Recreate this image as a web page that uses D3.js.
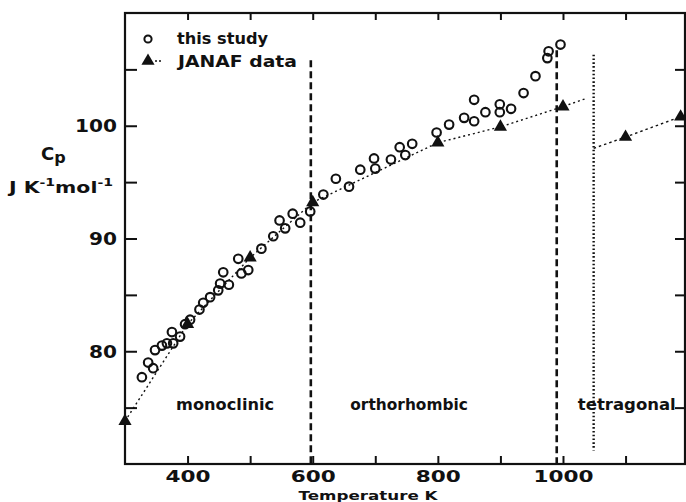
<!DOCTYPE html>
<html>
<head>
<meta charset="utf-8">
<script src="https://cdn.jsdelivr.net/npm/d3@7"></script>
<style>
  html, body { margin: 0; padding: 0; background: #fff; }
  svg { display: block; }
  text { font-family: "DejaVu Sans", sans-serif; fill: #111; }
</style>
</head>
<body>
<script>
// Heat capacity measurements (open circles)
const studyT = [327, 337, 345, 348, 359, 367, 375, 377, 388, 396, 404, 419, 425, 436, 449, 452, 457, 466,
                481, 486, 497, 518, 537, 547, 556, 568, 580, 596, 617, 637, 658, 676, 698, 700, 725, 739,
                748, 759, 798, 818, 842, 858, 858, 876, 899, 899, 917, 937, 956, 975, 977, 996];
const studyCp = [77.7, 79.0, 78.5, 80.1, 80.5, 80.7, 81.7, 80.7, 81.3, 82.4, 82.8, 83.7, 84.3, 84.8, 85.4, 86.0, 87.0, 85.9,
                 88.2, 86.9, 87.2, 89.1, 90.2, 91.6, 90.9, 92.2, 91.4, 92.4, 93.9, 95.3, 94.6, 96.1, 97.1, 96.2, 97.0, 98.1,
                 97.4, 98.4, 99.4, 100.1, 100.7, 100.4, 102.3, 101.2, 101.9, 101.2, 101.5, 102.9, 104.4, 106.0, 106.6, 107.2];

// JANAF tabulated values (filled triangles)
const janafT  = [300, 400, 500, 600, 800, 900, 1000, 1100, 1188];
const janafCp = [73.8, 82.4, 88.3, 93.2, 98.5, 99.9, 101.7, 99.0, 100.8];

// JANAF curve, low-temperature branch and tetragonal branch
const janafLowT  = [300, 400, 500, 600, 800, 900, 1000, 1036];
const janafLowCp = [73.8, 82.4, 88.3, 93.2, 98.5, 99.9, 101.7, 102.4];
const janafHighT  = [1049, 1100, 1188];
const janafHighCp = [98.0, 99.0, 100.8];

// Phase boundaries: temperature, top and bottom of the drawn line
const boundaryT   = [597, 990, 1049];
const boundaryTop = [105.8, 106.7, 106.3];
const boundaryBot = [70, 70, 71.2];
const boundaryStyle = ["dash", "dash", "dot"];

// Phase names and their label positions
const phaseNames = ["monoclinic", "orthorhombic", "tetragonal"];
const phaseLabelT = [460, 754, 1102];

// Axis ticks
const xTicks = [400, 500, 600, 700, 800, 900, 1000, 1100];
const xTickLabels = [400, 600, 800, 1000];
const yTicks = [75, 80, 85, 90, 95, 100, 105];
const yTickLabels = [80, 90, 100];

const W = 686, H = 502;
const svg = d3.select("body").append("svg").attr("width", W).attr("height", H);

const x = d3.scaleLinear().domain([300, 1195]).range([125, 685]);
const y = d3.scaleLinear().domain([70, 110]).range([464, 13]);

// Frame
svg.append("rect")
  .attr("x", x(300)).attr("y", y(110))
  .attr("width", x(1195) - x(300)).attr("height", y(70) - y(110))
  .attr("fill", "none").attr("stroke", "#111").attr("stroke-width", 2.2);

// Bottom axis with inward ticks
const xAxis = svg.append("g").attr("transform", `translate(0,${y(70)})`)
  .call(d3.axisBottom(x).tickValues(xTicks).tickSizeInner(-8).tickSizeOuter(0).tickPadding(7)
    .tickFormat(d => xTickLabels.includes(d) ? d : ""));
xAxis.select(".domain").remove();
xAxis.selectAll(".tick line").attr("stroke", "#111").attr("stroke-width", 2);
xAxis.selectAll(".tick text").attr("font-size", 16).attr("font-weight", "bold")
  .attr("font-family", "DejaVu Sans").attr("fill", "#111")
  .each(function (d) { if (xTickLabels.includes(d)) d3.select(this).attr("textLength", String(d).length * 15).attr("lengthAdjust", "spacingAndGlyphs"); });

// Top axis ticks
const xTop = svg.append("g").attr("transform", `translate(0,${y(110)})`)
  .call(d3.axisTop(x).tickValues(xTicks).tickSizeInner(-7).tickSizeOuter(0).tickFormat(""));
xTop.select(".domain").remove();
xTop.selectAll(".tick line").attr("stroke", "#111").attr("stroke-width", 2);

// Left axis with inward ticks
const yAxis = svg.append("g").attr("transform", `translate(${x(300)},0)`)
  .call(d3.axisLeft(y).tickValues(yTicks).tickSizeInner(-12).tickSizeOuter(0).tickPadding(8)
    .tickFormat(d => yTickLabels.includes(d) ? d : ""));
yAxis.select(".domain").remove();
yAxis.selectAll(".tick line").attr("stroke", "#111").attr("stroke-width", 2);
yAxis.selectAll(".tick text").attr("font-size", 18).attr("font-weight", "bold")
  .attr("font-family", "DejaVu Sans").attr("fill", "#111")
  .each(function (d) { if (yTickLabels.includes(d)) d3.select(this).attr("textLength", String(d).length * 14).attr("lengthAdjust", "spacingAndGlyphs"); });

// Right axis ticks
const yRight = svg.append("g").attr("transform", `translate(${x(1195)},0)`)
  .call(d3.axisRight(y).tickValues(yTicks).tickSizeInner(-10).tickSizeOuter(0).tickFormat(""));
yRight.select(".domain").remove();
yRight.selectAll(".tick line").attr("stroke", "#111").attr("stroke-width", 2);

// Axis titles
svg.append("text").attr("x", 368).attr("y", 500).attr("text-anchor", "middle")
  .attr("font-size", 12.5).attr("font-weight", "bold")
  .attr("textLength", 139).attr("lengthAdjust", "spacingAndGlyphs")
  .text("Temperature  K");

const cp = svg.append("text").attr("x", 41).attr("y", 160).attr("font-size", 18).attr("font-weight", "bold");
cp.append("tspan").text("C");
cp.append("tspan").attr("dy", 3).attr("font-size", 16).text("p");

const unit = svg.append("text").attr("x", 9).attr("y", 193).attr("font-size", 16).attr("font-weight", "bold")
  .attr("textLength", 104).attr("lengthAdjust", "spacingAndGlyphs");
unit.append("tspan").text("J K");
unit.append("tspan").attr("dy", -7).attr("font-size", 11).text("-1");
unit.append("tspan").attr("dy", 7).text("mol");
unit.append("tspan").attr("dy", -7).attr("font-size", 11).text("-1");

// Phase boundaries
const bounds = boundaryT.map((t, i) => ({ t, top: boundaryTop[i], bot: boundaryBot[i], style: boundaryStyle[i] }));
svg.append("g").selectAll("line").data(bounds).join("line")
  .attr("x1", d => x(d.t)).attr("x2", d => x(d.t))
  .attr("y1", d => y(d.top)).attr("y2", d => y(d.bot))
  .attr("stroke", "#111")
  .attr("stroke-width", d => d.style === "dash" ? 2.6 : 2.4)
  .attr("stroke-dasharray", d => d.style === "dash" ? "7,4" : "1.6,2.2");

// Phase labels
svg.append("g").selectAll("text").data(phaseNames).join("text")
  .attr("x", (d, i) => x(phaseLabelT[i])).attr("y", 410)
  .attr("text-anchor", "middle").attr("font-size", 15).attr("font-weight", "bold")
  .attr("textLength", d => d.length * 9.8).attr("lengthAdjust", "spacingAndGlyphs")
  .text(d => d);

// JANAF curves
const line = d3.line().x(d => x(d[0])).y(d => y(d[1]));
svg.append("path").datum(d3.zip(janafLowT, janafLowCp)).attr("d", line)
  .attr("fill", "none").attr("stroke", "#111").attr("stroke-width", 1.4).attr("stroke-dasharray", "2,3");
svg.append("path").datum(d3.zip(janafHighT, janafHighCp)).attr("d", line)
  .attr("fill", "none").attr("stroke", "#111").attr("stroke-width", 1.4).attr("stroke-dasharray", "2.5,3");

// JANAF points
const tri = d3.symbol(d3.symbolTriangle).size(75);
svg.append("g").selectAll("path").data(d3.zip(janafT, janafCp)).join("path")
  .attr("d", tri).attr("transform", d => `translate(${x(d[0])},${y(d[1])})`)
  .attr("fill", "#111");

// Measured points
svg.append("g").selectAll("circle").data(d3.zip(studyT, studyCp)).join("circle")
  .attr("cx", d => x(d[0])).attr("cy", d => y(d[1])).attr("r", 4.3)
  .attr("fill", "none").attr("stroke", "#111").attr("stroke-width", 2.1);

// Legend
const lg = svg.append("g");
lg.append("circle").attr("cx", 148).attr("cy", 39).attr("r", 3.6)
  .attr("fill", "none").attr("stroke", "#111").attr("stroke-width", 2);
lg.append("text").attr("x", 177).attr("y", 44).attr("font-size", 15).attr("font-weight", "bold")
  .attr("textLength", 91).attr("lengthAdjust", "spacingAndGlyphs").text("this study");
lg.append("path").attr("d", tri).attr("transform", "translate(148,61)").attr("fill", "#111");
lg.append("line").attr("x1", 155).attr("x2", 163).attr("y1", 61).attr("y2", 61)
  .attr("stroke", "#111").attr("stroke-width", 1.4).attr("stroke-dasharray", "2,2");
lg.append("text").attr("x", 178).attr("y", 67).attr("font-size", 15).attr("font-weight", "bold")
  .attr("textLength", 119).attr("lengthAdjust", "spacingAndGlyphs").text("JANAF data");
</script>
</body>
</html>
